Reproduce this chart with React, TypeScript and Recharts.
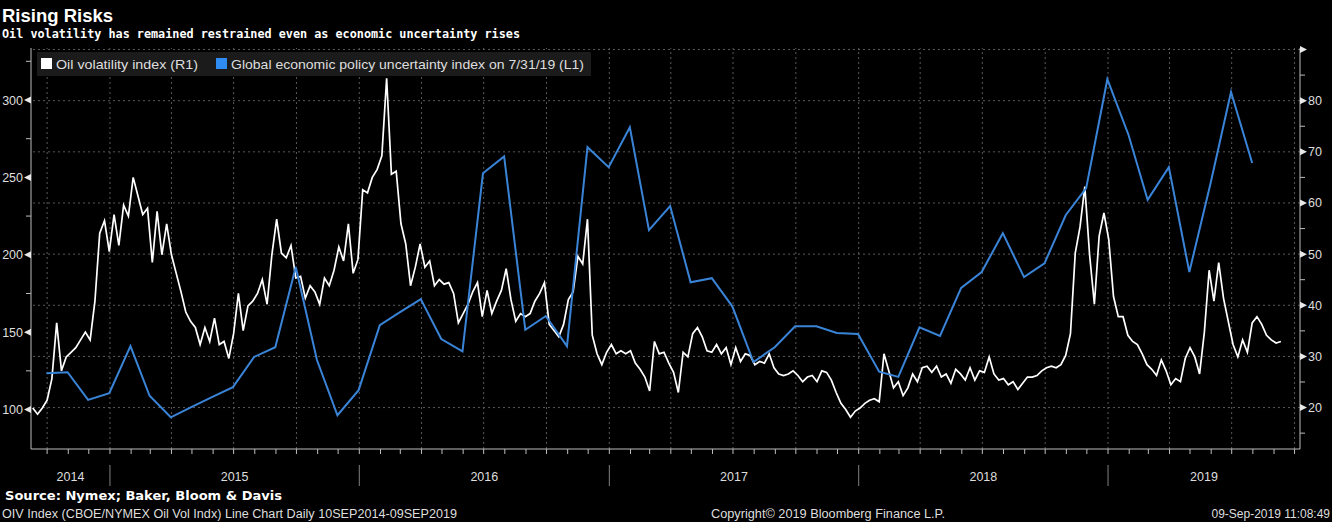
import React from 'react';
import { LineChart, Line, XAxis, YAxis, ReferenceLine } from 'recharts';

const DAY = 86400000;
const X_MIN = Date.UTC(2014, 8, 7, 10);
const X_MAX = Date.UTC(2019, 9, 9);
const OIL_START = Date.UTC(2014, 8, 10);

// weekly readings of the OIV index, 10 Sep 2014 -> 9 Sep 2019 (left scale)
const oilVol = [
  101, 97, 101, 106, 120, 156, 125, 134, 137, 140, 145, 150, 145, 170, 214, 222, 202, 226, 206, 232,
  225, 250, 238, 226, 230, 195, 228, 200, 220, 200, 188, 176, 163, 157, 153, 142, 153, 144, 159, 142,
  144, 133, 149, 175, 151, 167, 170, 175, 184, 168, 200, 223, 201, 198, 206, 185, 186, 172, 180, 176,
  168, 185, 180, 190, 205, 196, 220, 188, 197, 242, 240, 250, 255, 264, 314, 252, 254, 220, 207, 180,
  192, 207, 192, 196, 180, 184, 181, 182, 175, 156, 162, 168, 176, 182, 160, 177, 162, 170, 177, 191,
  171, 157, 162, 160, 162, 170, 175, 182, 155, 151, 147, 155, 171, 176, 199, 194, 223, 148, 136, 129,
  137, 142, 136, 138, 136, 138, 130, 126, 121, 112, 144, 136, 137, 130, 124, 111, 137, 134, 149, 153,
  147, 138, 137, 142, 136, 140, 129, 140, 131, 136, 135, 129, 131, 130, 136, 127, 123, 122, 123, 125,
  122, 118, 121, 122, 118, 125, 124, 119, 111, 104, 100, 95, 99, 101, 104, 106, 107, 105, 136, 125,
  114, 118, 109, 114, 123, 118, 127, 128, 124, 128, 121, 123, 117, 126, 123, 119, 127, 119, 125, 124,
  134, 123, 119, 120, 116, 118, 113, 117, 121, 121, 122, 125, 127, 128, 127, 129, 135, 149, 201, 218,
  244, 200, 168, 212, 227, 210, 173, 160, 160, 148, 144, 142, 136, 129, 126, 122, 132, 125, 116, 120,
  118, 133, 140, 134, 123, 150, 190, 170, 195, 172, 157, 142, 134, 145, 137, 156, 160, 155, 148, 145,
  143, 144,
];

// global economic policy uncertainty index, month ends Sep 2014 -> Jul 2019 (right scale)
const epu = [
  26.7, 26.9, 21.5, 22.8, 32.0, 22.3, 18.1, 20.1, 22.1, 24.0, 29.9, 31.8, 47.5, 29.3, 18.5, 23.4,
  36.1, 38.6, 41.2, 33.4, 31.0, 65.8, 69.1, 35.2, 37.9, 32.0, 70.9, 67.0, 74.8, 54.7, 59.4, 44.5,
  45.3, 39.8, 28.9, 31.8, 35.9, 35.9, 34.6, 34.4, 27.0, 26.0, 35.7, 34.0, 43.4, 46.5, 54.1, 45.5,
  48.2, 57.6, 62.9, 84.2, 73.3, 60.6, 67.0, 46.5, 63.8, 81.7, 67.8,
];

const years = ['2014', '2015', '2016', '2017', '2018', '2019'];
const leftTicks = [100, 125, 150, 175, 200, 225, 250, 275, 300, 325];
const rightTicks = [15, 20, 25, 30, 35, 40, 45, 50, 55, 60, 65, 70, 75, 80, 85, 90];
const gridValues = [20, 30, 40, 50, 60, 70, 80, 90];

const oilData = oilVol.map((v, i) => ({ t: OIL_START + i * 7 * DAY, v }));
const epuData = epu.map((v, i) => ({ t: Date.UTC(2014, 9 + i, 0), v }));

const monthTicks = Array.from({ length: 61 }, (_, k) => Date.UTC(2014, 9 + k, 1));
const quarterTicks = monthTicks.filter((t) => new Date(t).getUTCMonth() % 3 === 0);
const yearBounds = [X_MIN, ...years.slice(1).map((y) => Date.UTC(Number(y), 0, 1)), X_MAX];
const yearCenters = years.map((_, i) => (yearBounds[i] + yearBounds[i + 1]) / 2);
const yearLabelAt = new Map(yearCenters.map((t, i) => [t, years[i]]));

const AXIS = '#bcbcbc';
const LABEL = '#dedede';
const GRID = '#5a5a5a';
const FONT = "'Liberation Sans', Arial, sans-serif";

const LeftTick = (props: any) => {
  const { x, y, payload } = props;
  const v = payload.value;
  if (v % 50 !== 0) return <line x1={x} x2={x - 5} y1={y} y2={y} stroke={AXIS} />;
  return (
    <g>
      <polygon points={`${x},${y - 3.5} ${x},${y + 3.5} ${x - 7},${y}`} fill="#e8e8e8" />
      <text x={x - 8} y={y + 4.5} textAnchor="end" fill={LABEL} fontSize={12.5} fontFamily={FONT}>
        {v}
      </text>
    </g>
  );
};

const RightTick = (props: any) => {
  const { x, y, payload } = props;
  const v = payload.value;
  if (v % 10 !== 0) return <line x1={x} x2={x + 5} y1={y} y2={y} stroke={AXIS} />;
  return (
    <g>
      <polygon points={`${x},${y - 3.5} ${x},${y + 3.5} ${x + 7},${y}`} fill="#e8e8e8" />
      {v !== 90 && (
        <text x={x + 8} y={y + 4.5} textAnchor="start" fill={LABEL} fontSize={12.5} fontFamily={FONT}>
          {v}
        </text>
      )}
    </g>
  );
};

const XTick = (props: any) => {
  const { x, y, payload } = props;
  const label = yearLabelAt.get(payload.value);
  if (label) {
    return (
      <text x={x} y={y + 32} textAnchor="middle" fill={LABEL} fontSize={12.5} fontFamily={FONT}>
        {label}
      </text>
    );
  }
  const jan = new Date(payload.value).getUTCMonth() === 0;
  return (
    <g>
      <line x1={x} x2={x} y1={y} y2={y + 5} stroke={AXIS} />
      {jan && <line x1={x} x2={x} y1={y + 16} y2={y + 37} stroke="#808080" />}
    </g>
  );
};

export default function App() {
  return (
    <div style={{ position: 'relative', width: 1332, height: 522, background: '#000', overflow: 'hidden' }}>
      <style>{'body{margin:0;background:#000}'}</style>
      <LineChart
        width={1332}
        height={522}
        margin={{ top: 48, right: 0, bottom: 0, left: 0 }}
        style={{ position: 'absolute', left: 0, top: 0 }}
      >
        <XAxis
          xAxisId="x"
          type="number"
          dataKey="t"
          domain={[X_MIN, X_MAX]}
          allowDataOverflow
          ticks={[...monthTicks, ...yearCenters]}
          interval={0}
          height={73}
          tickSize={0}
          tickMargin={0}
          tickLine={false}
          axisLine={{ stroke: AXIS }}
          tick={<XTick />}
        />
        <YAxis
          yAxisId="left"
          orientation="left"
          type="number"
          domain={[74.5, 333.6]}
          allowDataOverflow
          ticks={leftTicks}
          interval={0}
          width={31}
          tickSize={0}
          tickMargin={0}
          tickLine={false}
          axisLine={{ stroke: AXIS }}
          tick={<LeftTick />}
        />
        <YAxis
          yAxisId="right"
          orientation="right"
          type="number"
          domain={[11.9, 90.3]}
          allowDataOverflow
          ticks={rightTicks}
          interval={0}
          width={32}
          tickSize={0}
          tickMargin={0}
          tickLine={false}
          axisLine={{ stroke: AXIS }}
          tick={<RightTick />}
        />
        {gridValues.map((g) => (
          <ReferenceLine
            key={`h${g}`}
            xAxisId="x"
            yAxisId="right"
            y={g}
            stroke={GRID}
            strokeWidth={1}
            strokeDasharray="2 3"
          />
        ))}
        {quarterTicks.map((t) => (
          <ReferenceLine
            key={`v${t}`}
            xAxisId="x"
            yAxisId="right"
            x={t}
            stroke={GRID}
            strokeWidth={1}
            strokeDasharray="2 3"
          />
        ))}
        <Line
          xAxisId="x"
          yAxisId="left"
          data={oilData}
          dataKey="v"
          type="linear"
          stroke="#ffffff"
          strokeWidth={1.7}
          dot={false}
          isAnimationActive={false}
        />
        <Line
          xAxisId="x"
          yAxisId="right"
          data={epuData}
          dataKey="v"
          type="linear"
          stroke="#3a84d8"
          strokeWidth={2}
          dot={false}
          isAnimationActive={false}
        />
      </LineChart>
      <svg
        width={1332}
        height={522}
        style={{ position: 'absolute', left: 0, top: 0, pointerEvents: 'none' }}
      >
        <text x={2} y={22} fill="#fff" fontSize={18} fontWeight="bold" fontFamily={FONT}
          textLength={111} lengthAdjust="spacingAndGlyphs">Rising Risks</text>
        <text x={2} y={38} fill="#fff" fontSize={12} fontWeight="bold" fontFamily="'DejaVu Sans Mono', monospace"
          textLength={518} lengthAdjust="spacingAndGlyphs">
          Oil volatility has remained restrained even as economic uncertainty rises
        </text>

        <rect x={37} y={52} width={554} height={24} fill="#1b1b1b" />
        <rect x={41} y={58} width={11} height={11} fill="#ffffff" />
        <text x={56} y={68.5} fill={LABEL} fontSize={13} fontFamily={FONT}
          textLength={142} lengthAdjust="spacingAndGlyphs">Oil volatility index (R1)</text>
        <rect x={216} y={58} width={11} height={11} fill="#2f8cf2" />
        <text x={231} y={68.5} fill={LABEL} fontSize={13} fontFamily={FONT}
          textLength={353} lengthAdjust="spacingAndGlyphs">
          Global economic policy uncertainty index on 7/31/19 (L1)
        </text>

        <text x={5} y={500} fill="#fff" fontSize={13} fontWeight="bold" fontFamily="'DejaVu Sans', sans-serif"
          textLength={277} lengthAdjust="spacingAndGlyphs">Source: Nymex; Baker, Bloom &amp; Davis</text>
        <text x={2} y={518} fill={LABEL} fontSize={12} fontFamily={FONT}
          textLength={455} lengthAdjust="spacingAndGlyphs">
          OIV Index (CBOE/NYMEX Oil Vol Indx) Line Chart  Daily 10SEP2014-09SEP2019
        </text>
        <text x={711} y={518} fill={LABEL} fontSize={12} fontFamily={FONT}
          textLength={234} lengthAdjust="spacingAndGlyphs">Copyright© 2019 Bloomberg Finance L.P.</text>
        <text x={1330} y={518} fill={LABEL} fontSize={12} fontFamily={FONT} textAnchor="end">
          09-Sep-2019 11:08:49
        </text>
      </svg>
    </div>
  );
}
